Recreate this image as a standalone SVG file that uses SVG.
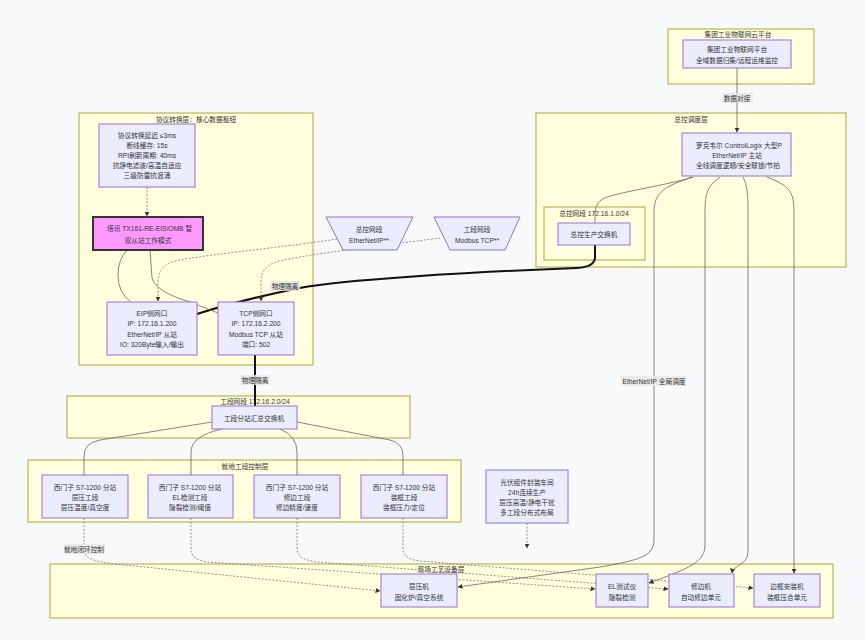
<svg xmlns="http://www.w3.org/2000/svg" width="865" height="640" viewBox="0 0 865 640">
<style>
text{font-family:"Liberation Sans","Noto Sans CJK SC",sans-serif;font-size:6.7px;fill:#333;dominant-baseline:central;text-anchor:middle}
.cl{fill:#FFFFDE;stroke:#AAAA33;stroke-width:1}
.nd{fill:#ECECFF;stroke:#9370DB;stroke-width:1}
.e{fill:none;stroke:#666;stroke-width:0.8}
.d{fill:none;stroke:#777;stroke-width:0.8;stroke-dasharray:2 1.6}
.t{fill:none;stroke:#111;stroke-width:2}
.lb{fill:#e8e8e8;fill-opacity:0.85}
.st{text-anchor:start}
</style>
<defs>
<marker id="ar" viewBox="0 0 10 10" refX="9" refY="5" markerWidth="5" markerHeight="5" markerUnits="userSpaceOnUse" orient="auto"><path d="M0,0L10,5L0,10z" fill="#333"/></marker>
<clipPath id="clipPLC"><rect x="683" y="134" width="99" height="41"/></clipPath>
<clipPath id="clipGW"><rect x="94" y="218" width="98" height="31"/></clipPath>
</defs>
<rect width="865" height="640" fill="#f8f9fb"/>

<g id="clusters">
<g id="cloudLayer"><rect class="cl" x="668" y="29" width="146" height="55"/><text x="738" y="34">集团工业物联网云平台</text></g>
<g id="masterLayer"><rect class="cl" x="536" y="113" width="310" height="154"/><text x="691" y="119">总控调度层</text></g>
<g id="masterNet"><rect class="cl" x="544" y="207" width="101" height="53"/><text x="594" y="213">总控网段 172.16.1.0/24</text></g>
<g id="protoLayer"><rect class="cl" x="79" y="113" width="234" height="252"/><text x="196" y="119">协议转换层：核心数据枢纽</text></g>
<g id="stationNet"><rect class="cl" x="67" y="396" width="343" height="42"/><text x="255" y="401">工段网段 172.16.2.0/24</text></g>
<g id="localLayer"><rect class="cl" x="28" y="460" width="433" height="62"/><text x="245" y="466">就地工段控制层</text></g>
<g id="fieldLayer"><rect class="cl" x="50" y="564" width="783" height="54"/><text x="441" y="569">现场工艺设备层</text></g>
</g>

<g id="connectors">
<path class="e" d="M737,68L737,132" marker-end="url(#ar)"/>
<path class="e" d="M693,177C665,186 610,193 601,200Q595,205 595,214L595,223"/>
<path class="t" d="M595,245L595,257Q595,267 577,268C470,272 340,280 300,288C255,297 225,305 197,314"/>
<path class="t" d="M255,355L255,406"/>
<path class="d" d="M147,187L147,216" marker-end="url(#ar)"/>
<path class="e" d="M127,250Q118,260 118,275Q118,293 131,302"/>
<path class="e" d="M150,250L152,278Q156,292 190,302L218,313"/>
<path class="d" d="M337,239C280,248 190,256 172,262Q158,267 158,282L158,301" marker-end="url(#ar)"/>
<path class="d" d="M440,238C380,246 300,255 276,262Q261,267 261,282L261,301" marker-end="url(#ar)"/>
<path class="e" d="M212,422L100,440Q84,443 84,456L84,475"/>
<path class="e" d="M222,429Q191,436 191,452L191,475"/>
<path class="e" d="M280,429Q297,436 297,452L297,475"/>
<path class="e" d="M297,422L390,440Q403,443 403,456L403,475"/>
<path class="d" d="M527,523L527,548" marker-end="url(#ar)"/>
<path class="d" d="M84,518L84,550C84,560 100,563 125,565L380,591" marker-end="url(#ar)"/>
<path class="d" d="M191,518L191,548C191,557 196,560 207,562L595,589" marker-end="url(#ar)"/>
<path class="d" d="M297,518L297,548C297,557 304,560 317,562L668,589" marker-end="url(#ar)"/>
<path class="d" d="M403,518L403,548C403,557 410,560 420,561L753,588" marker-end="url(#ar)"/>
<path class="e" d="M693,177C665,186 654,192 654,212L654,540C654,556 640,560 600,567L458,587" marker-end="url(#ar)"/>
<path class="e" d="M720,177C708,186 705,192 705,212L705,545C705,562 690,568 649,583" marker-end="url(#ar)"/>
<path class="e" d="M743,177C747,186 748,192 748,212L748,552C748,565 733,565 732,573" marker-end="url(#ar)"/>
<path class="e" d="M767,177C790,186 794,192 794,212L794,573" marker-end="url(#ar)"/>
<g id="edgeLabels">
<rect class="lb" x="722" y="93" width="31" height="10"/><text x="737" y="98">数据对接</text>
<rect class="lb" x="270" y="281" width="30" height="10"/><text x="285" y="286">物理隔离</text>
<rect class="lb" x="240" y="375" width="30" height="10"/><text x="255" y="380">物理隔离</text>
<rect class="lb" x="621" y="376" width="65" height="10"/><text x="654" y="381">EtherNet/IP 全局调度</text>
<rect class="lb" x="64" y="544" width="41" height="10"/><text x="84" y="549">就地闭环控制</text>
</g>
</g>

<g id="cloudPlatform"><rect class="nd" x="683" y="40" width="108" height="28"/><text x="737" y="49">集团工业物联网平台</text><text x="737" y="60">全域数据归集/远程运维监控</text></g>
<g id="plc"><rect class="nd" x="682" y="133" width="109" height="43"/>
<g clip-path="url(#clipPLC)"><text class="st" x="696" y="145">罗克韦尔 ControlLogix 大型PLC</text><text x="737" y="155">EtherNet/IP 主站</text><text class="st" x="696" y="165">全线调度逻辑/安全联锁/节拍</text></g></g>
<g id="masterSwitch"><rect class="nd" x="558" y="223" width="72" height="22"/><text x="594" y="234">总控生产交换机</text></g>
<g id="protoNote"><rect class="nd" x="99" y="124" width="96" height="63"/><text x="147" y="135">协议转换延迟 ≤3ms</text><text x="147" y="145">断线缓存: 15s</text><text x="147" y="155">RPI刷新周期: 40ms</text><text x="147" y="165">抗静电滤波/高温自适应</text><text x="147" y="175">三级防雷抗浪涌</text></g>
<g id="gateway"><rect x="93" y="217" width="110" height="33" fill="#FF99FF" stroke="#333" stroke-width="2"/>
<g clip-path="url(#clipGW)"><text class="st" x="107" y="228">塔讯 TX161-RE-EIS/OMB 智能网关</text></g><text x="148" y="240">双从站工作模式</text></g>
<g id="eipPort"><rect class="nd" x="107" y="302" width="90" height="53"/><text x="152" y="313">EIP侧网口</text><text x="152" y="323">IP: 172.16.1.200</text><text x="152" y="334">EtherNet/IP 从站</text><text x="152" y="344">IO: 320Byte输入/输出</text></g>
<g id="tcpPort"><rect class="nd" x="218" y="302" width="76" height="53"/><text x="256" y="313">TCP侧网口</text><text x="256" y="323">IP: 172.16.2.200</text><text x="256" y="334">Modbus TCP 从站</text><text x="256" y="344">端口: 502</text></g>
<g id="masterNetTag"><polygon class="nd" points="326,217 413,217 397,250 343,250"/><text x="369" y="229">总控网段</text><text x="369" y="240">EtherNet/IP**</text></g>
<g id="stationNetTag"><polygon class="nd" points="434,217 520,217 505,250 450,250"/><text x="477" y="229">工段网段</text><text x="477" y="240">Modbus TCP**</text></g>
<g id="stationSwitch"><rect class="nd" x="212" y="406" width="85" height="23"/><text x="254" y="418">工段分站汇总交换机</text></g>
<g id="s7a"><rect class="nd" x="42" y="475" width="86" height="43"/><text x="85" y="487">西门子 S7-1200 分站</text><text x="85" y="497">层压工段</text><text x="85" y="507">层压温度/真空度</text></g>
<g id="s7b"><rect class="nd" x="148" y="475" width="85" height="43"/><text x="190" y="487">西门子 S7-1200 分站</text><text x="190" y="497">EL检测工段</text><text x="190" y="507">隐裂检测/阈值</text></g>
<g id="s7c"><rect class="nd" x="254" y="475" width="86" height="43"/><text x="297" y="487">西门子 S7-1200 分站</text><text x="297" y="497">修边工段</text><text x="297" y="507">修边精度/速度</text></g>
<g id="s7d"><rect class="nd" x="361" y="475" width="86" height="43"/><text x="404" y="487">西门子 S7-1200 分站</text><text x="404" y="497">装框工段</text><text x="404" y="507">装框压力/定位</text></g>
<g id="workshopNote"><rect class="nd" x="486" y="470" width="82" height="53"/><text x="527" y="482">光伏组件封装车间</text><text x="527" y="492">24h连续生产</text><text x="527" y="502">层压高温/静电干扰</text><text x="527" y="512">多工段分布式布局</text></g>
<g id="laminator"><rect class="nd" x="381" y="574" width="76" height="33"/><text x="419" y="586">层压机</text><text x="419" y="597">固化炉/真空系统</text></g>
<g id="elTester"><rect class="nd" x="596" y="574" width="52" height="33"/><text x="622" y="586">EL测试仪</text><text x="622" y="597">隐裂检测</text></g>
<g id="trimmer"><rect class="nd" x="669" y="574" width="65" height="33"/><text x="701" y="586">修边机</text><text x="701" y="597">自动修边单元</text></g>
<g id="framer"><rect class="nd" x="754" y="574" width="66" height="33"/><text x="787" y="586">边框安装机</text><text x="787" y="597">装框压合单元</text></g>
</svg>
